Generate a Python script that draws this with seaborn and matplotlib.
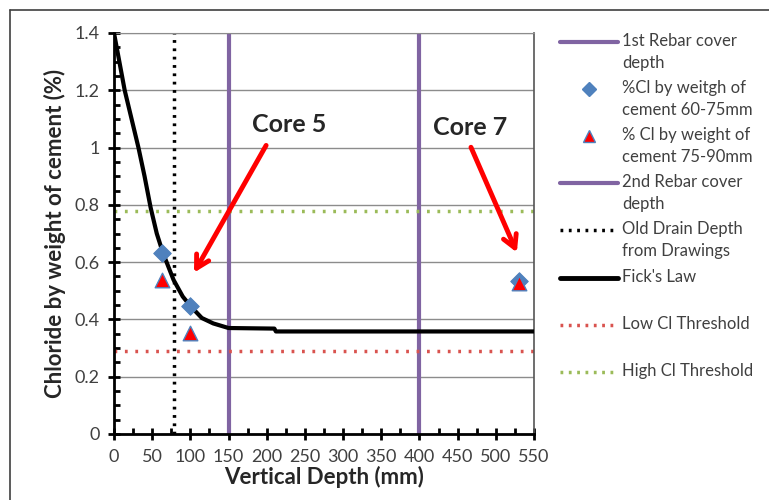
import matplotlib
matplotlib.use("Agg")
import matplotlib.pyplot as plt
import seaborn as sns
import pandas as pd
from matplotlib.lines import Line2D
from matplotlib.transforms import Affine2D
from matplotlib.ticker import MultipleLocator, FormatStrFormatter

# lecture approximative des valeurs du graphique
core_x = [63, 100, 530]
cl_60_75 = [0.633, 0.447, 0.535]
cl_75_90 = [0.538, 0.354, 0.527]

fick_x = [0, 7, 14, 23, 32, 40, 48, 56, 64, 78, 90, 100, 115, 130, 150, 210, 212, 550]
fick_y = [1.40, 1.30, 1.20, 1.10, 1.00, 0.90, 0.79, 0.70, 0.633, 0.538, 0.48, 0.447,
          0.405, 0.386, 0.37, 0.368, 0.358, 0.358]

rebar_1 = 150
rebar_2 = 400
old_drain = 78
low_cl = 0.29
high_cl = 0.78

sns.set_style("white")
plt.rcParams['font.family'] = ['Lato', 'DejaVu Sans']

fig = plt.figure(figsize=(7.69, 5), dpi=100)
ax = fig.add_axes([114/769, 1-434/500, 420/769, 401/500])

purple = '#8064A2'
blue = '#4F81BD'
red_dot = '#D9534F'
green_dot = '#9BBB59'

ax.axvline(rebar_1, color=purple, lw=3, zorder=2)
ax.axvline(rebar_2, color=purple, lw=3, zorder=2)
ax.axvline(old_drain, color='black', lw=2.5, ls=(0, (0.8, 1.6)), zorder=2)
ax.axhline(low_cl, color=red_dot, lw=2.5, ls=(0, (0.8, 2.2)), zorder=2)
ax.axhline(high_cl, color=green_dot, lw=2.5, ls=(0, (0.8, 2.2)), zorder=2)

df_fick = pd.DataFrame({'x': fick_x, 'y': fick_y})
sns.lineplot(data=df_fick, x='x', y='y', color='black', lw=3, ax=ax, zorder=3)

df_pts = pd.DataFrame({'x': core_x, 'a': cl_60_75, 'b': cl_75_90})
sns.scatterplot(data=df_pts, x='x', y='a', marker='D', color=blue, s=80,
                edgecolor=blue, ax=ax, zorder=4)
sns.scatterplot(data=df_pts, x='x', y='b', marker='^', color='red', s=110,
                edgecolor=blue, linewidth=1, ax=ax, zorder=5)

ax.set_xlim(0, 550)
ax.set_ylim(0, 1.4)
ax.xaxis.set_major_locator(MultipleLocator(50))
ax.xaxis.set_minor_locator(MultipleLocator(25))
ax.yaxis.set_major_locator(MultipleLocator(0.2))
ax.yaxis.set_minor_locator(MultipleLocator(0.05))
ax.yaxis.set_major_formatter(FormatStrFormatter('%g'))
ax.grid(axis='y', which='major', color='#8c8c8c', lw=1)
ax.set_axisbelow(True)

for s in ['left', 'bottom']:
    ax.spines[s].set_color('black')
    ax.spines[s].set_linewidth(2)
ax.spines['top'].set_color('#8c8c8c')
ax.spines['right'].set_color('#555555')
ax.spines['right'].set_linewidth(1.2)

ax.tick_params(which='major', direction='inout', length=9, width=2, labelsize=13,
               colors='black', labelcolor='#404040', pad=6)
ax.tick_params(which='minor', direction='in', length=4, width=2, colors='black')
ax.tick_params(axis='x', which='both', bottom=True)
ax.tick_params(axis='y', which='both', left=True)

ax.set_xlabel('Vertical Depth (mm)', fontsize=16, fontweight='bold', labelpad=1)
ax.set_ylabel('Chloride by weight of cement (%)', fontsize=16, fontweight='bold', labelpad=6)

arrow = dict(arrowstyle='->,head_length=0.9,head_width=0.5', color='red', lw=3.5)
ax.annotate('', xy=(103, 0.555), xytext=(201, 1.016), arrowprops=arrow)
ax.text(230, 1.08, 'Core 5', fontsize=18, fontweight='bold', ha='center', va='center')
ax.annotate('', xy=(529, 0.625), xytext=(466, 1.01), arrowprops=arrow)
ax.text(466, 1.07, 'Core 7', fontsize=18, fontweight='bold', ha='center', va='center')

handles = [
    Line2D([], [], color=purple, lw=3),
    Line2D([], [], color=blue, marker='D', ls='', markersize=7),
    Line2D([], [], color='red', marker='^', ls='', markersize=9, markeredgecolor=blue),
    Line2D([], [], color=purple, lw=3),
    Line2D([], [], color='black', lw=2.5, ls=(0, (0.8, 1.6))),
    Line2D([], [], color='black', lw=3.5),
    Line2D([], [], color=red_dot, lw=2.5, ls=(0, (0.8, 1.6))),
    Line2D([], [], color=green_dot, lw=2.5, ls=(0, (0.8, 1.6))),
]
labels = [
    '1st Rebar cover\ndepth',
    '%Cl by weitgh of\ncement 60-75mm',
    '% Cl by weight of\ncement 75-90mm',
    '2nd Rebar cover\ndepth',
    'Old Drain Depth\nfrom Drawings',
    "Fick's Law\n ",
    'Low Cl Threshold\n ',
    'High Cl Threshold\n ',
]
leg = fig.legend(handles, labels, loc='upper left', bbox_to_anchor=(553/769, 1-26/500),
                 frameon=False, fontsize=12, handlelength=3.5, handletextpad=0.25,
                 labelspacing=0.56, labelcolor='#404040', borderaxespad=0)
for t in leg.get_texts():
    t.set_linespacing(1.45)
# comme Excel : le symbole au niveau de la premiere ligne
for h in leg.legend_handles:
    h.set_transform(h.get_transform() + Affine2D().translate(0, 10.5))

# cadre autour de la figure
fig.add_artist(Line2D([10/769, 10/769], [0, 1-10/500], color='#404040', lw=1.2))
fig.add_artist(Line2D([10/769, 1], [1-10/500, 1-10/500], color='#404040', lw=1.2))

plt.savefig('out.png', dpi=100)
